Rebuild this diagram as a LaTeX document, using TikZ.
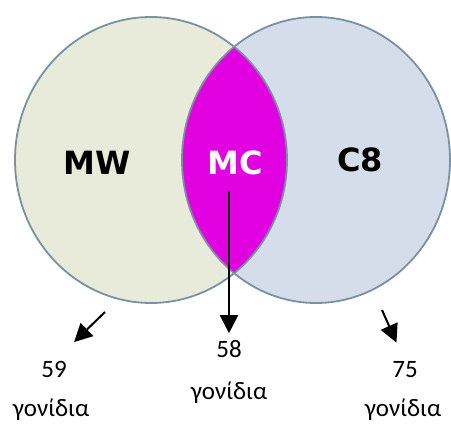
\documentclass[tikz,border=0pt]{standalone}
\usepackage{fontspec}
\setsansfont{DejaVu Sans}
\newfontfamily\countfont{Carlito}
\usetikzlibrary{arrows.meta,positioning}
\definecolor{setgreen}{HTML}{E8EBDA}
\definecolor{setblue}{HTML}{D5DDEA}
\definecolor{lensmagenta}{HTML}{E000E0}
\definecolor{rimgray}{HTML}{7A90A3}
\tikzset{
  setlabel/.style={inner sep=0pt,anchor=base,font=\sffamily\bfseries\fontsize{32}{32}\selectfont,text=black},
  countlabel/.style={inner sep=0pt,anchor=base,font=\countfont\fontsize{25}{25}\selectfont,text=black},
  genearrow/.style={-{Triangle[length=18pt,width=18pt]},line width=2pt,draw=black},
  setrim/.style={draw=rimgray,line width=1.8pt},
}

\begin{document}
\begin{tikzpicture}[x=1pt,y=1pt]
    \useasboundingbox (0,0) rectangle (451,426);
    % the two sets and their overlap
    \fill[setgreen] (151,266) ellipse [x radius=136pt,y radius=143pt];
    \fill[setblue] (316,266) ellipse [x radius=134pt,y radius=143pt];
    \begin{scope}
      \clip (151,266) ellipse [x radius=136pt,y radius=143pt];
      \fill[lensmagenta] (316,266) ellipse [x radius=134pt,y radius=143pt];
    \end{scope}
    \draw[setrim] (151,266) ellipse [x radius=136pt,y radius=143pt];
    \draw[setrim] (316,266) ellipse [x radius=134pt,y radius=143pt];
    \node[setlabel] (mw) at (97,251) {MW};
    \node[setlabel,text=white] (mc) at (235,251) {MC};
    \node[setlabel] (c8) at (360,254) {C8};
    % counts
    \node[countlabel] (lbl59) at (54,48) {59};
    \node[countlabel] (genes59) at (51,9) {γονίδια};
    \node[countlabel] (lbl58) at (229,68) {58};
    \node[countlabel] (genes58) at (229,26) {γονίδια};
    \node[countlabel] (lbl75) at (405,48) {75};
    \node[countlabel] (genes75) at (403,9) {γονίδια};
    \coordinate (mwfoot) at (105,114);
    \coordinate (c8foot) at (382,116);
    \draw[genearrow,shorten >=28pt] (mwfoot) -- (lbl59.north);
    \draw[genearrow,shorten <=15pt,shorten >=7.5pt] (mc.south -| lbl58.north) -- (lbl58.north);
    \draw[genearrow,shorten >=21pt] (c8foot) -- (lbl75.north);
  \end{tikzpicture}
\end{document}
